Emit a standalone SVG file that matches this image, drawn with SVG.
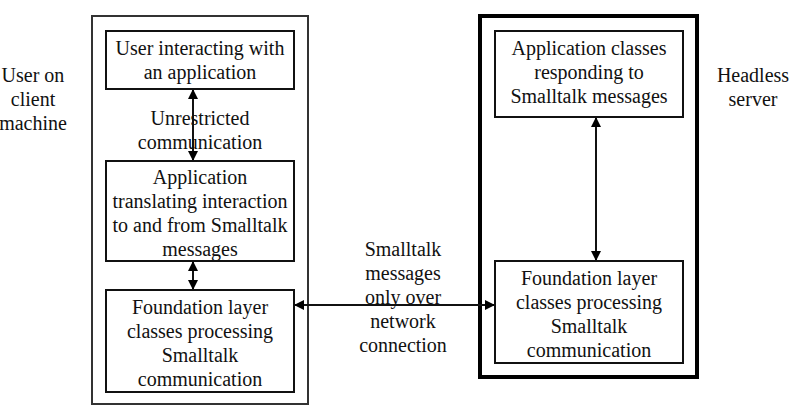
<svg xmlns="http://www.w3.org/2000/svg" width="796" height="406" viewBox="0 0 796 406">
<defs>
<style>
text{font-family:"Liberation Serif","Times New Roman",serif;font-size:20px;fill:#111;text-anchor:middle}
.box{fill:#fff;stroke:#111;stroke-width:2}
.outer{fill:none;stroke:#333;stroke-width:2}
.outer2{fill:none;stroke:#000;stroke-width:4}
.conn{stroke:#111;stroke-width:2;fill:none}
</style>
<marker id="ah" viewBox="0 0 10 10" refX="9" refY="5" markerWidth="5" markerHeight="5" orient="auto-start-reverse" markerUnits="strokeWidth">
<path d="M0,0 L10,5 L0,10 z" fill="#000"/>
</marker>
</defs>
<rect width="796" height="406" fill="#fff"/>
<g id="client">
<rect class="outer" x="92" y="16" width="216" height="388"/>
<text x="33" y="82">User on</text>
<text x="33" y="106">client</text>
<text x="33" y="130">machine</text>
</g>
<g id="server">
<rect class="outer2" x="480" y="16" width="217" height="361"/>
<text x="753" y="82">Headless</text>
<text x="753" y="106">server</text>
</g>
<g id="connectors">
<line class="conn" x1="193" y1="90" x2="193" y2="160" marker-start="url(#ah)" marker-end="url(#ah)"/>
<line class="conn" x1="193" y1="262" x2="193" y2="289" marker-start="url(#ah)" marker-end="url(#ah)"/>
<line class="conn" x1="295" y1="305" x2="494" y2="305" marker-start="url(#ah)" marker-end="url(#ah)"/>
<line class="conn" x1="596" y1="118" x2="596" y2="260" marker-start="url(#ah)" marker-end="url(#ah)"/>
<text x="200" y="125">Unrestricted</text>
<text x="200" y="149">communication</text>
<text x="403" y="256">Smalltalk</text>
<text x="403" y="280">messages</text>
<text x="403" y="304">only over</text>
<text x="403" y="328">network</text>
<text x="403" y="352">connection</text>
</g>
<g id="user-app">
<rect class="box" x="106" y="31" width="188" height="58"/>
<text x="200" y="55">User interacting with</text>
<text x="200" y="79">an application</text>
</g>
<g id="app-translating">
<rect class="box" x="106" y="161" width="188" height="100"/>
<text x="200" y="184">Application</text>
<text x="200" y="208">translating interaction</text>
<text x="200" y="232">to and from Smalltalk</text>
<text x="200" y="256">messages</text>
</g>
<g id="client-foundation">
<rect class="box" x="106" y="290" width="188" height="102"/>
<text x="200" y="314">Foundation layer</text>
<text x="200" y="338">classes processing</text>
<text x="200" y="362">Smalltalk</text>
<text x="200" y="386">communication</text>
</g>
<g id="server-app">
<rect class="box" x="495" y="31" width="188" height="86"/>
<text x="589" y="55">Application classes</text>
<text x="589" y="79">responding to</text>
<text x="589" y="103">Smalltalk messages</text>
</g>
<g id="server-foundation">
<rect class="box" x="495" y="261" width="188" height="102"/>
<text x="589" y="285">Foundation layer</text>
<text x="589" y="309">classes processing</text>
<text x="589" y="333">Smalltalk</text>
<text x="589" y="357">communication</text>
</g>
</svg>
